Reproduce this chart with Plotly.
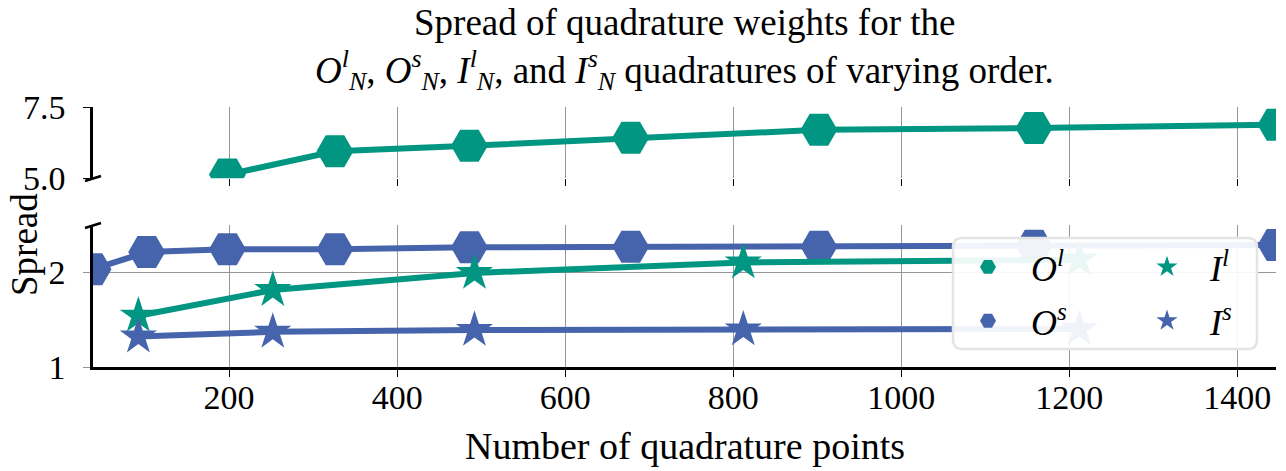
import plotly.graph_objects as go

# ---------------- data ----------------
o_l_points = [198, 326, 486, 678, 902, 1158, 1446]
o_l_spread = [5.13, 5.95, 6.14, 6.42, 6.70, 6.76, 6.88]

o_s_points = [38, 102, 198, 326, 486, 678, 902, 1158, 1446]
o_s_spread = [2.03, 2.21, 2.24, 2.24, 2.26, 2.265, 2.265, 2.275, 2.285]

i_l_points = [92, 252, 492, 812, 1212]
i_l_spread = [1.54, 1.81, 1.99, 2.10, 2.13]

i_s_points = [92, 252, 492, 812, 1212]
i_s_spread = [1.32, 1.37, 1.39, 1.395, 1.40]

x_ticks = [200, 400, 600, 800, 1000, 1200, 1400]
y_low_ticks = [1, 2]
y_low_labels = ["1", "2"]
y_high_ticks = [5.0, 7.5]
y_high_labels = ["5.0", "7.5"]

# ---------------- style ----------------
GREEN = "rgb(1,150,130)"
BLUE = "rgb(70,100,172)"
GRID = "rgb(150,150,150)"
FONT = "Liberation Serif"
W, H = 1286, 471
ML, MR, MT, MB = 93, 10, 107, 104
PW, PH = W - ML - MR, H - MT - MB


def px_x(p):
    return (p - ML) / PW


def px_y(p):
    return (H - MB - p) / PH


fig = go.Figure()

series = [
    ("<i>O</i><sup><i>l</i></sup>", o_l_points, o_l_spread, GREEN, "hexagon2", 37, "x2", "y2", "legend"),
    ("<i>O</i><sup><i>s</i></sup>", o_s_points, o_s_spread, BLUE, "hexagon2", 37, "x", "y", "legend"),
    ("<i>I</i><sup><i>l</i></sup>", i_l_points, i_l_spread, GREEN, "star", 28, "x", "y", "legend2"),
    ("<i>I</i><sup><i>s</i></sup>", i_s_points, i_s_spread, BLUE, "star", 28, "x", "y", "legend2"),
]

for name, xs, ys, col, sym, sz, xa, ya, lg in series:
    fig.add_trace(go.Scatter(
        x=xs, y=ys, xaxis=xa, yaxis=ya, mode="lines+markers", name=name,
        line=dict(color=col, width=6),
        marker=dict(symbol=sym, size=sz, color=col),
        showlegend=False,
    ))
# legend entries (marker only, like the reference)
for name, xs, ys, col, sym, sz, xa, ya, lg in series:
    fig.add_trace(go.Scatter(
        x=[None], y=[None], xaxis=xa, yaxis=ya, mode="markers", name=name,
        marker=dict(symbol=sym, size=sz, color=col),
        legend=lg, legendgroup=name, showlegend=True,
    ))

low_top = px_y(224.5)
high_bottom = px_y(178.3)

axis_common = dict(
    showgrid=True, gridcolor=GRID, gridwidth=1, zeroline=False,
    tickfont=dict(family=FONT, size=34, color="black"),
)

fig.update_layout(
    width=W, height=H,
    margin=dict(l=ML, r=MR, t=MT, b=MB),
    plot_bgcolor="white", paper_bgcolor="white",
    font=dict(family=FONT, size=34, color="black"),
    xaxis=dict(
        domain=[0, 1], range=[38, 1446], anchor="y",
        tickvals=x_ticks, ticks="outside", ticklen=7, tickwidth=1.2,
        tickcolor="black", ticklabelstandoff=-9,
        showline=True, linecolor="black", linewidth=2.5,
        **axis_common,
    ),
    xaxis2=dict(
        domain=[0, 1], matches="x", anchor="y2",
        tickvals=x_ticks, ticks="outside", ticklen=7, tickwidth=1.2,
        tickcolor="black", showticklabels=False, showline=False,
        **axis_common,
    ),
    yaxis=dict(
        domain=[0, low_top], range=[1, 2.5], anchor="x",
        tickvals=y_low_ticks, ticktext=y_low_labels,
        ticks="outside", ticklen=7, tickcolor=GRID, ticklabelstandoff=11,
        showline=True, linecolor="black", linewidth=2.5,
        **axis_common,
    ),
    yaxis2=dict(
        domain=[high_bottom, 1], range=[5.0, 7.5], anchor="x2",
        tickvals=y_high_ticks, ticktext=y_high_labels,
        ticks="outside", ticklen=7, tickcolor="black", ticklabelstandoff=11,
        showline=True, linecolor="black", linewidth=2.5,
        **axis_common,
    ),
    legend=dict(
        x=px_x(945), y=px_y(237), xanchor="left", yanchor="top",
        bgcolor="rgba(0,0,0,0)", borderwidth=0, itemwidth=76,
        font=dict(family=FONT, size=36), tracegroupgap=4,
    ),
    legend2=dict(
        x=px_x(1124), y=px_y(237), xanchor="left", yanchor="top",
        bgcolor="rgba(0,0,0,0)", borderwidth=0, itemwidth=76,
        font=dict(family=FONT, size=36), tracegroupgap=4,
    ),
    showlegend=True,
)

# legend frame (rounded, semi-transparent)
bx0, bx1 = px_x(953), px_x(1257)
by0, by1 = px_y(349), px_y(238)
rx, ry = 9 / PW, 9 / PH
path = (f"M {bx0+rx},{by1} L {bx1-rx},{by1} Q {bx1},{by1} {bx1},{by1-ry} "
        f"L {bx1},{by0+ry} Q {bx1},{by0} {bx1-rx},{by0} "
        f"L {bx0+rx},{by0} Q {bx0},{by0} {bx0},{by0+ry} "
        f"L {bx0},{by1-ry} Q {bx0},{by1} {bx0+rx},{by1} Z")
fig.add_shape(type="path", path=path, xref="paper", yref="paper",
              fillcolor="rgba(255,255,255,0.92)",
              line=dict(color="rgb(228,228,228)", width=2.5), layer="above")

# axis break marks
for yb in (181, 228):
    fig.add_shape(type="line", xref="paper", yref="paper",
                  x0=px_x(85), y0=px_y(yb), x1=px_x(101), y1=px_y(yb - 5),
                  line=dict(color="black", width=2.5))

# title (two lines)
fig.add_annotation(
    text="Spread of quadrature weights for the",
    xref="paper", yref="paper", x=0.5, y=px_y(22), xanchor="center", yanchor="middle",
    showarrow=False, font=dict(family=FONT, size=37, color="black"),
)
fig.add_annotation(
    text=("<i>O</i><sup><i>l</i></sup><sub><i>N</i></sub>, "
          "<i>O</i><sup><i>s</i></sup><sub><i>N</i></sub>, "
          "<i>I</i><sup><i>l</i></sup><sub><i>N</i></sub>, and "
          "<i>I</i><sup><i>s</i></sup><sub><i>N</i></sub> "
          "quadratures of varying order."),
    xref="paper", yref="paper", x=0.5, y=px_y(70), xanchor="center", yanchor="middle",
    showarrow=False, font=dict(family=FONT, size=37, color="black"),
)

# x axis title
fig.add_annotation(
    text="Number of quadrature points",
    xref="paper", yref="paper", x=0.5, y=px_y(446), xanchor="center", yanchor="middle",
    showarrow=False, font=dict(family=FONT, size=38, color="black"),
)

# shared y label
fig.add_annotation(
    text="Spread", textangle=-90, xref="paper", yref="paper",
    x=px_x(24), y=px_y(245), xanchor="center", yanchor="middle",
    showarrow=False, font=dict(family=FONT, size=37, color="black"),
)

fig.write_html(
    "out.html",
    config={"displayModeBar": False},
    post_script="document.body.style.margin='0';document.body.style.overflow='hidden';",
)
